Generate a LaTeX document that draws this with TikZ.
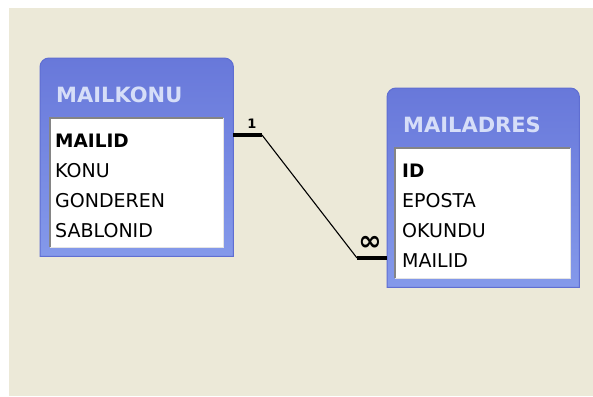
\documentclass[tikz,border=0pt]{standalone}
\usepackage{fontspec}
\setmainfont{DejaVu Sans}

\definecolor{desk}{HTML}{ECE9D8}
\definecolor{framedark}{HTML}{5F6ED2}
\definecolor{titletop}{HTML}{6878DA}
\definecolor{titlebot}{HTML}{8499EA}
\definecolor{titletext}{HTML}{D6DEF8}
\definecolor{sunken}{HTML}{858585}
\definecolor{raised}{HTML}{E4E4E4}

% table outline with rounded top corners
\newcommand{\tableframe}[1]{%
  \shade[top color=titletop, bottom color=titlebot, draw=framedark, line width=1pt]
    (#1.south west) -- ([yshift=-9pt]#1.north west)
    arc[start angle=180, end angle=90, radius=9pt]
    -- ([xshift=-9pt]#1.north east)
    arc[start angle=90, end angle=0, radius=9pt]
    -- (#1.south east) -- cycle;}
% sunken white field list
\newcommand{\listframe}[1]{%
  \draw[raised, line width=1.5pt] (#1.north east) -- (#1.south east) -- (#1.south west);
  \draw[sunken, line width=1.5pt] (#1.south west) -- (#1.north west) -- (#1.north east);}

\begin{document}
\begin{tikzpicture}[x=1pt,y=-1pt,
  tablebox/.style={draw=none, inner sep=0pt, anchor=north west},
  fieldlist/.style={fill=white, inner sep=0pt, anchor=north west},
  tabletitle/.style={text=titletext, font=\bfseries\fontsize{21}{24}\selectfont, anchor=base west, inner sep=0pt},
  field/.style={font=\fontsize{19}{21}\selectfont, anchor=base west, inner sep=0pt},
  keyfield/.style={font=\bfseries\fontsize{18.5}{21}\selectfont, anchor=base west, inner sep=0pt},
  joinbar/.style={line width=4pt},
  joinline/.style={line width=1.1pt},
  cardinal/.style={font=\bfseries\fontsize{13}{14}\selectfont, inner sep=0pt},
  manyside/.style={font=\bfseries\fontsize{28}{30}\selectfont, inner sep=0pt}
]
\useasboundingbox (0,0) rectangle (593,396);
\fill[white] (0,0) rectangle (593,396);
\fill[desk] (9,8) rectangle (593,396);

% MAILKONU
\node[tablebox, minimum width=193pt, minimum height=198pt] (konu) at (40,58) {};
\tableframe{konu}
\node[fieldlist, minimum width=173pt, minimum height=129pt] (konulist) at (50,118) {};
\listframe{konulist}
\node[tabletitle] (konutitle) at (56,102) {MAILKONU};
\node[keyfield] (konu1) at (55,147) {MAILID};
\node[field] (konu2) at (55,177) {KONU};
\node[field] (konu3) at (55,207) {GONDEREN};
\node[field] (konu4) at (55,237) {SABLONID};

% MAILADRES
\node[tablebox, minimum width=192pt, minimum height=199pt] (adres) at (387,88) {};
\tableframe{adres}
\node[fieldlist, minimum width=175pt, minimum height=130pt] (adreslist) at (395,148) {};
\listframe{adreslist}
\node[tabletitle] (adrestitle) at (403,132) {MAILADRES};
\node[keyfield] (adres1) at (402,177) {ID};
\node[field] (adres2) at (402,207) {EPOSTA};
\node[field] (adres3) at (402,237) {OKUNDU};
\node[field] (adres4) at (402,267) {MAILID};

% one-to-many relationship
\coordinate (joinone) at (262,135);
\coordinate (joinmany) at (357,258);
\draw[joinbar] (konu.east |- joinone) -- (joinone);
\draw[joinline] (joinone) -- (joinmany);
\draw[joinbar] (joinmany) -- (adres.west |- joinmany);
\node[cardinal] (onelabel) at (252,124) {1};
\node[manyside] (manylabel) at (370,243) {∞};
\end{tikzpicture}
\end{document}
